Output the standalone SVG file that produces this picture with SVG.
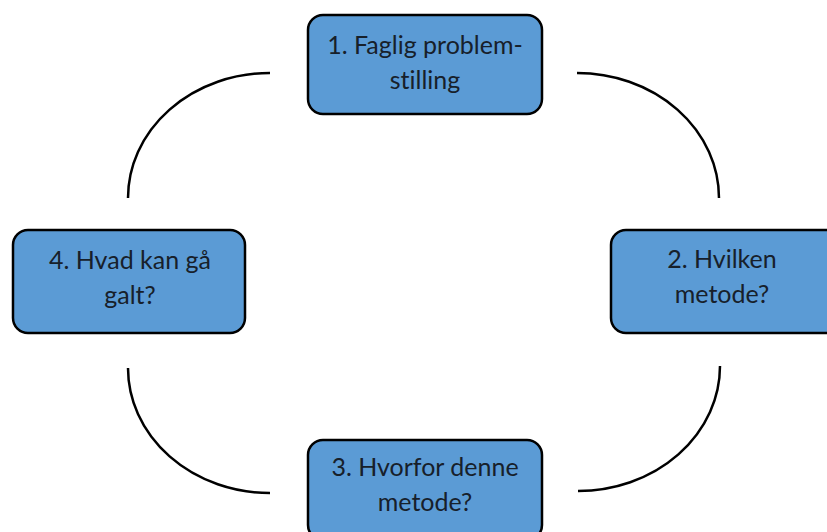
<svg xmlns="http://www.w3.org/2000/svg" width="827" height="532" viewBox="0 0 827 532">
<style>
.box{fill:#5b9bd5;stroke:#000;stroke-width:2.5}
.lbl{font-family:Lato,"Open Sans","Liberation Sans",sans-serif;font-size:25px;fill:#17202a;text-anchor:middle;font-variant-ligatures:none}
.arc{fill:none;stroke:#000;stroke-width:2.5;stroke-linecap:butt}
</style>
<rect width="827" height="532" fill="#fff"/>
<g id="connectors">
<path class="arc" d="M128,198 A142,125 0 0 1 270,73"/>
<path class="arc" d="M577,73 A142,125 0 0 1 719,198"/>
<path class="arc" d="M720,366 A142,125 0 0 1 578,491"/>
<path class="arc" d="M270,493 A142,125 0 0 1 128,368"/>
</g>
<g id="node1">
<rect class="box" x="308" y="15" width="234" height="99" rx="15"/>
<text class="lbl" x="425" y="54">1. Faglig problem-</text>
<text class="lbl" x="425" y="89">stilling</text>
</g>
<g id="node2">
<rect class="box" x="611" y="230" width="234" height="103" rx="15"/>
<text class="lbl" x="722" y="268">2. Hvilken</text>
<text class="lbl" x="722" y="303">metode?</text>
</g>
<g id="node3">
<rect class="box" x="308" y="440" width="234" height="100" rx="15"/>
<text class="lbl" x="425" y="476">3. Hvorfor denne</text>
<text class="lbl" x="425" y="511">metode?</text>
</g>
<g id="node4">
<rect class="box" x="13" y="230" width="232" height="103" rx="15"/>
<text class="lbl" x="130" y="269">4. Hvad kan gå</text>
<text class="lbl" x="130" y="304">galt?</text>
</g>
</svg>
